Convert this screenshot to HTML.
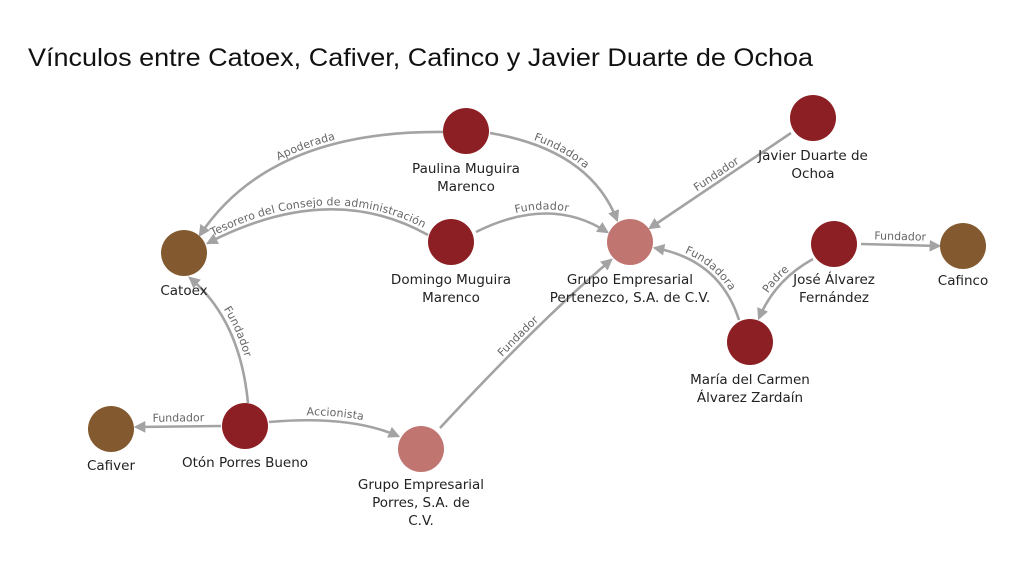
<!DOCTYPE html>
<html><head><meta charset="utf-8"><style>
html,body{margin:0;padding:0;background:#fff;}
svg{display:block;}
.e{fill:none;stroke:#a3a3a3;stroke-width:2.6;}
.l{font-family:"DejaVu Sans","Liberation Sans",sans-serif;font-size:11px;fill:#666;}
.n{font-family:"DejaVu Sans","Liberation Sans",sans-serif;font-size:13.5px;fill:#222;text-anchor:middle;}
</style></head><body>
<svg width="1024" height="572" viewBox="0 0 1024 572" xmlns="http://www.w3.org/2000/svg">
<defs>
<marker id="a" viewBox="0 0 10 10" refX="8" refY="5" markerWidth="4.5" markerHeight="4.5" orient="auto" markerUnits="strokeWidth">
<path d="M0,0 L10,5 L0,10 z" fill="#a3a3a3"/></marker>
<path id="p1" d="M200,235 Q270,130 444,132"/>
<path id="p2" d="M490,133 Q590,150 617,220"/>
<path id="p3" d="M208,243 Q330,180 428,235"/>
<path id="p4" d="M476,232 Q550,195 607,232"/>
<path id="p5" d="M650,228 L791,133"/>
<path id="p6" d="M655,248 Q720,260 739,320"/>
<path id="p7" d="M759,318 Q775,280 813,259"/>
<path id="p8" d="M861,244 L939,246"/>
<path id="p9" d="M190,278 Q240,320 248,403"/>
<path id="p10" d="M136,427 L221,426"/>
<path id="p11" d="M269,422 Q350,415 398,436"/>
<path id="p12" d="M440,428 Q540,320 611,260"/>
</defs>
<text x="28" y="66" font-family="Liberation Sans, sans-serif" font-size="25" fill="#111" textLength="785" lengthAdjust="spacingAndGlyphs">Vínculos entre Catoex, Cafiver, Cafinco y Javier Duarte de Ochoa</text>

<path class="e" d="M444,132 Q270,130 200,235" marker-end="url(#a)"/>
<path class="e" d="M490,133 Q590,150 617,220" marker-end="url(#a)"/>
<path class="e" d="M428,235 Q330,180 208,243" marker-end="url(#a)"/>
<path class="e" d="M476,232 Q550,195 607,232" marker-end="url(#a)"/>
<path class="e" d="M791,133 L650,228" marker-end="url(#a)"/>
<path class="e" d="M739,320 Q720,260 655,248" marker-end="url(#a)"/>
<path class="e" d="M813,259 Q775,280 759,318" marker-end="url(#a)"/>
<path class="e" d="M861,244 L939,246" marker-end="url(#a)"/>
<path class="e" d="M248,403 Q240,320 190,278" marker-end="url(#a)"/>
<path class="e" d="M221,426 L136,427" marker-end="url(#a)"/>
<path class="e" d="M269,422 Q350,415 398,436" marker-end="url(#a)"/>
<path class="e" d="M440,428 Q540,320 611,260" marker-end="url(#a)"/>

<text class="l" dy="-4"><textPath href="#p1" startOffset="50%" text-anchor="middle">Apoderada</textPath></text>
<text class="l" dy="-4"><textPath href="#p2" startOffset="45%" text-anchor="middle">Fundadora</textPath></text>
<text class="l" dy="-4"><textPath href="#p3" startOffset="50%" text-anchor="middle">Tesorero del Consejo de administración</textPath></text>
<text class="l" dy="-4"><textPath href="#p4" startOffset="50%" text-anchor="middle">Fundador</textPath></text>
<text class="l" dy="-4"><textPath href="#p5" startOffset="50%" text-anchor="middle">Fundador</textPath></text>
<text class="l" dy="-4"><textPath href="#p6" startOffset="50%" text-anchor="middle">Fundadora</textPath></text>
<text class="l" dy="-4"><textPath href="#p7" startOffset="50%" text-anchor="middle">Padre</textPath></text>
<text class="l" dy="-5"><textPath href="#p8" startOffset="50%" text-anchor="middle">Fundador</textPath></text>
<text class="l" dy="-5"><textPath href="#p9" startOffset="50%" text-anchor="middle">Fundador</textPath></text>
<text class="l" dy="-5"><textPath href="#p10" startOffset="50%" text-anchor="middle">Fundador</textPath></text>
<text class="l" dy="-5"><textPath href="#p11" startOffset="50%" text-anchor="middle">Accionista</textPath></text>
<text class="l" dy="-4"><textPath href="#p12" startOffset="50%" text-anchor="middle">Fundador</textPath></text>

<circle cx="466" cy="131" r="23" fill="#8b1f24"/>
<circle cx="451" cy="242" r="23" fill="#8b1f24"/>
<circle cx="184" cy="253" r="23" fill="#835a2f"/>
<circle cx="630" cy="242" r="23" fill="#c07571"/>
<circle cx="813" cy="118" r="23" fill="#8b1f24"/>
<circle cx="834" cy="244" r="23" fill="#8b1f24"/>
<circle cx="963" cy="246" r="23" fill="#835a2f"/>
<circle cx="750" cy="342" r="23" fill="#8b1f24"/>
<circle cx="245" cy="426" r="23" fill="#8b1f24"/>
<circle cx="111" cy="429" r="23" fill="#835a2f"/>
<circle cx="421" cy="449" r="23" fill="#c07571"/>

<text class="n" x="466" y="173">Paulina Muguira</text>
<text class="n" x="466" y="191">Marenco</text>
<text class="n" x="451" y="284">Domingo Muguira</text>
<text class="n" x="451" y="302">Marenco</text>
<text class="n" x="184" y="295">Catoex</text>
<text class="n" x="630" y="284">Grupo Empresarial</text>
<text class="n" x="630" y="302">Pertenezco, S.A. de C.V.</text>
<text class="n" x="813" y="160">Javier Duarte de</text>
<text class="n" x="813" y="178">Ochoa</text>
<text class="n" x="834" y="284">José Álvarez</text>
<text class="n" x="834" y="302">Fernández</text>
<text class="n" x="963" y="285">Cafinco</text>
<text class="n" x="750" y="384">María del Carmen</text>
<text class="n" x="750" y="402">Álvarez Zardaín</text>
<text class="n" x="245" y="467">Otón Porres Bueno</text>
<text class="n" x="111" y="470">Cafiver</text>
<text class="n" x="421" y="489">Grupo Empresarial</text>
<text class="n" x="421" y="507">Porres, S.A. de</text>
<text class="n" x="421" y="525">C.V.</text>
</svg>
</body></html>
